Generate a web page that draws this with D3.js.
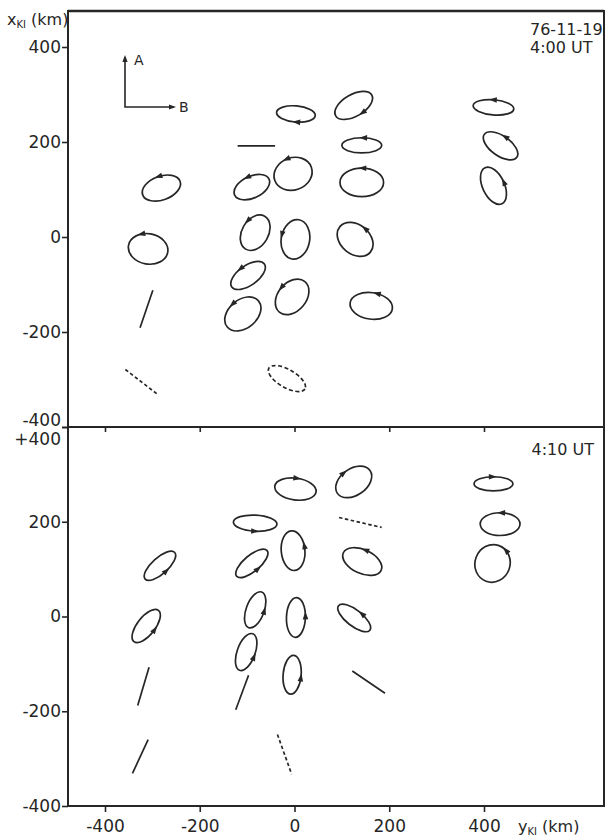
<!DOCTYPE html>
<html><head><meta charset="utf-8">
<script src="https://cdn.jsdelivr.net/npm/d3@7"></script>
<style>
body{margin:0;background:#fff}
svg{display:block}
text{font-family:"DejaVu Sans",sans-serif;fill:#262626}
</style>
</head><body>
<svg id="c" width="606" height="839"></svg>
<script>
// ---------- data (km) ----------
const tickValues = [-400, -200, 0, 200, 400];
const xTickLabels = ["-400", "-200", "0", "200", "400"];
const topTickLabels = ["-400", "-200", "0", "200", "400"];
const bottomTickLabels = ["-400", "-200", "0", "200", "+400"];
const panelLabels = ["4:00 UT", "4:10 UT"];
const dateLabel = "76-11-19";

// ellipses: [yKI, xKI, semi-major, semi-minor, tilt deg, sense (+1 ccw, -1 cw, 0 none), arrow position deg, dashed]
const topEllipses = [
  [3, 259, 41, 17, -5, -1, 272, 0],
  [125, 277, 44, 23, 30, -1, 319, 0],
  [420, 273, 43, 16, -5, 1, 95, 0],
  [142, 193, 42, 16, 0, 1, 80, 0],
  [435, 192, 42, 21, -35, 1, 64, 0],
  [-3, 133, 41, 34, 20, 1, 115, 0],
  [142, 115, 46, 30, 0, 1, 88, 0],
  [-90, 105, 40, 23, 25, 1, 117, 0],
  [420, 108, 42, 23, -65, 1, 21, 0],
  [-281, 103, 42, 25, 20, 1, 105, 0],
  [-309, -25, 42, 32, -10, 1, 115, 0],
  [-83, 9, 40, 28, 60, 1, 123, 0],
  [2, -5, 42, 30, 80, 1, 162, 0],
  [128, -5, 42, 31, -40, 1, 48, 0],
  [-98, -81, 42, 21, 35, 1, 140, 0],
  [-5, -126, 42, 30, 50, 1, 140, 0],
  [-109, -162, 43, 30, 40, 1, 137, 0],
  [162, -145, 45, 28, -8, 1, 66, 0],
  [-16, -298, 44, 19, -30, 0, 0, 1]
];
// lines: [y1, x1, y2, x2, dashed]
const topLines = [
  [-120, 192, -41, 192, 0],
  [-299, -112, -326, -191, 0],
  [-357, -279, -288, -332, 1]
];
const bottomEllipses = [
  [2, 269, 44, 23, -8, -1, 80, 0],
  [125, 284, 42, 28, 35, -1, 137, 0],
  [420, 280, 41, 15, 0, -1, 95, 0],
  [-83, 197, 46, 17, -3, 1, 270, 0],
  [434, 195, 42, 24, 0, 1, 85, 0],
  [-3, 139, 42, 25, 95, 1, 26, 0],
  [-284, 107, 42, 17, 42, 1, 323, 0],
  [-90, 112, 42, 17, 40, 1, 321, 0],
  [143, 116, 44, 25, -25, 1, 76, 0],
  [418, 112, 40, 37, 70, 1, 45, 0],
  [-313, -20, 42, 19, 52, 1, 338, 0],
  [-83, 14, 40, 19, 70, 1, 355, 0],
  [3, -2, 42, 20, 88, 1, 12, 0],
  [126, -3, 42, 17, -38, 1, 29, 0],
  [-102, -75, 41, 19, 70, 1, 329, 0],
  [-5, -123, 41, 19, 85, 1, 343, 0]
];
const bottomLines = [
  [94, 209, 184, 188, 1],
  [-307, -107, -331, -188, 0],
  [-97, -124, -124, -197, 0],
  [122, -115, 191, -162, 0],
  [-309, -260, -342, -331, 0],
  [-36, -249, -6, -333, 1]
];

(function () {
// ---------- layout ----------
const svg = d3.select("#c");
const ink = "#262626";
const xS = d3.scaleLinear().domain([-400, 400]).range([105, 484]);
const yTop = d3.scaleLinear().domain([-400, 400]).range([427, 47]);
const yBot = d3.scaleLinear().domain([-400, 400]).range([806, 427]);
const pLeft = 68, pRight = 604, pTop = 11;
const kpx = Math.abs(xS(1) - xS(0));

// frames
svg.append("rect").attr("x", pLeft).attr("y", pTop).attr("width", pRight - pLeft).attr("height", yTop(-400) - pTop)
  .attr("fill", "none").attr("stroke", ink).attr("stroke-width", 2);
svg.append("rect").attr("x", pLeft).attr("y", yBot(400)).attr("width", pRight - pLeft).attr("height", yBot(-400) - yBot(400))
  .attr("fill", "none").attr("stroke", ink).attr("stroke-width", 2);
svg.append("line").attr("x1", pLeft).attr("x2", pRight).attr("y1", pTop).attr("y2", pTop).attr("stroke", ink).attr("stroke-width", 2.6);

function styleAxis(g, size) {
  g.select(".domain").remove();
  g.selectAll("line").attr("stroke", ink).attr("stroke-width", 1.6);
  g.selectAll("text").attr("font-family", "DejaVu Sans, sans-serif").attr("font-size", size).attr("fill", ink);
}

// left axes
const gTopAx = svg.append("g").attr("transform", `translate(${pLeft},0)`)
  .call(d3.axisLeft(yTop).tickValues(tickValues).tickSize(6).tickPadding(1).tickSizeOuter(0)
    .tickFormat((d, i) => topTickLabels[i]));
styleAxis(gTopAx, 17);
gTopAx.selectAll(".tick").filter(d => d === -400).select("text").attr("dy", "-0.08em");

const gBotAx = svg.append("g").attr("transform", `translate(${pLeft},0)`)
  .call(d3.axisLeft(yBot).tickValues(tickValues).tickSize(6).tickPadding(1).tickSizeOuter(0)
    .tickFormat((d, i) => bottomTickLabels[i]));
styleAxis(gBotAx, 17);
gBotAx.selectAll(".tick").filter(d => d === 400).select("text").attr("dy", "1.05em");

// bottom x axis
const gX = svg.append("g").attr("transform", `translate(0,${yBot(-400)})`)
  .call(d3.axisBottom(xS).tickValues(tickValues).tickSize(6).tickPadding(8).tickSizeOuter(0)
    .tickFormat((d, i) => xTickLabels[i]));
styleAxis(gX, 17);
// ticks on the divider, pointing into the lower panel
const gXm = svg.append("g").attr("transform", `translate(0,${yBot(400)})`)
  .call(d3.axisBottom(xS).tickValues(tickValues).tickSize(5).tickFormat(""));
styleAxis(gXm, 17);

// axis titles
const ty = svg.append("text").attr("x", 7).attr("y", 25).attr("font-size", 16);
ty.append("tspan").text("x");
ty.append("tspan").attr("font-size", 10).attr("dy", 3).text("KI");
ty.append("tspan").attr("dy", -3).text(" (km)");
const tx = svg.append("text").attr("x", 518).attr("y", 832).attr("font-size", 16);
tx.append("tspan").text("y");
tx.append("tspan").attr("font-size", 10).attr("dy", 3).text("KI");
tx.append("tspan").attr("dy", -3).text(" (km)");

// panel annotations
svg.append("text").attr("x", 530).attr("y", 35).attr("font-size", 16).text(dateLabel);
svg.append("text").attr("x", 530).attr("y", 53).attr("font-size", 16).text(panelLabels[0]);
svg.append("text").attr("x", 594).attr("y", 455).attr("font-size", 16).attr("text-anchor", "end").text(panelLabels[1]);

// A / B direction arrows
function head(g, x, y, ux, uy, len, w) {
  const bx = x - ux * len, by = y - uy * len, nx = -uy, ny = ux;
  g.append("path").attr("d", `M${x},${y}L${bx + nx * w},${by + ny * w}L${bx - nx * w},${by - ny * w}Z`)
    .attr("fill", ink).attr("stroke", "none");
}
const gab = svg.append("g");
gab.append("path").attr("d", "M125,57V107H174").attr("fill", "none").attr("stroke", ink).attr("stroke-width", 1.6);
head(gab, 125, 55, 0, -1, 7, 2.6);
head(gab, 176, 107, 1, 0, 7, 2.6);
svg.append("text").attr("x", 134).attr("y", 65).attr("font-size", 14).text("A");
svg.append("text").attr("x", 179).attr("y", 112).attr("font-size", 14).text("B");

// ---------- marks ----------
function drawPanel(ellipses, lines, yS) {
  const g = svg.append("g");
  ellipses.forEach(e => {
    const [yy, xx, a, b, th, sense, phi, dashed] = e;
    const cx = xS(yy), cy = yS(xx), ra = a * kpx, rb = b * kpx;
    g.append("ellipse").attr("cx", 0).attr("cy", 0).attr("rx", ra).attr("ry", rb)
      .attr("transform", `translate(${cx},${cy}) rotate(${-th})`)
      .attr("fill", "none").attr("stroke", ink).attr("stroke-width", 1.7)
      .attr("stroke-dasharray", dashed ? "4,2.5" : null);
    if (sense !== 0) {
      const T = th * Math.PI / 180, psi = (phi - th) * Math.PI / 180;
      const t = Math.atan2(ra * Math.sin(psi), rb * Math.cos(psi));
      const lx = ra * Math.cos(t), ly = rb * Math.sin(t);
      const vx = lx * Math.cos(T) - ly * Math.sin(T), vy = lx * Math.sin(T) + ly * Math.cos(T);
      const dlx = -ra * Math.sin(t), dly = rb * Math.cos(t);
      const dvx = dlx * Math.cos(T) - dly * Math.sin(T), dvy = dlx * Math.sin(T) + dly * Math.cos(T);
      let ux = sense * dvx, uy = -sense * dvy;
      const n = Math.hypot(ux, uy); ux /= n; uy /= n;
      const px = cx + vx, py = cy - vy;
      head(g, px + ux * 4, py + uy * 4, ux, uy, 8, 2.8);
    }
  });
  lines.forEach(l => {
    g.append("line").attr("x1", xS(l[0])).attr("y1", yS(l[1])).attr("x2", xS(l[2])).attr("y2", yS(l[3]))
      .attr("stroke", ink).attr("stroke-width", 1.7).attr("stroke-dasharray", l[4] ? "3.5,2.5" : null);
  });
}
drawPanel(topEllipses, topLines, yTop);
drawPanel(bottomEllipses, bottomLines, yBot);
})();
</script>
</body></html>
